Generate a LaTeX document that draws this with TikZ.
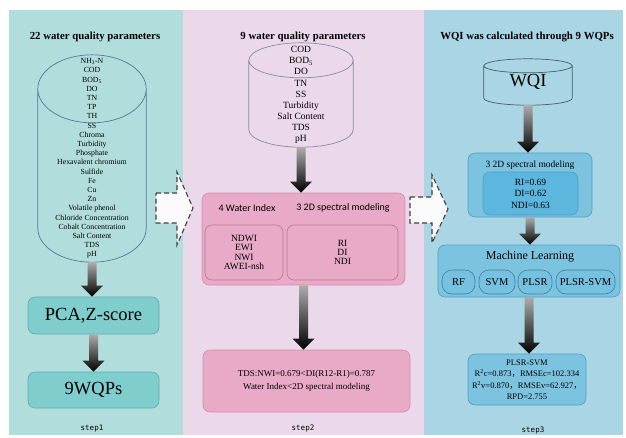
\documentclass[tikz,border=0pt]{standalone}
\usepackage{fontspec}
\setmainfont{Liberation Serif}
\setsansfont{Carlito}
\setmonofont{DejaVu Sans Mono}
\newfontfamily\cjk{Noto Sans CJK SC}
\usetikzlibrary{calc}

\definecolor{tealpanel}{HTML}{B2DDDD}
\definecolor{tealfill}{HTML}{7FCDCD}
\definecolor{tealline}{HTML}{5AAFB0}
\definecolor{pinkpanel}{HTML}{EBD8EB}
\definecolor{pinkfill}{HTML}{E8AAC6}
\definecolor{pinkline}{HTML}{D48FAF}
\definecolor{bluepanel}{HTML}{A9D5E5}
\definecolor{bluefill}{HTML}{7CC3E0}
\definecolor{blueline}{HTML}{4F9EC6}
\definecolor{blueinner}{HTML}{5DB6DE}
\definecolor{cylblue}{HTML}{4F7A9A}
\definecolor{cylgrey}{HTML}{8A8AA2}
\definecolor{cyldark}{HTML}{4A5A68}

% cylinder outline round a node: name, y radius, colour
\newcommand{\cyl}[3]{%
  \draw[cylline=#3] let \p1=(#1.north west), \p2=(#1.south east), \n1={0.5*(\x2-\x1)} in
    (\x1,\y1-#2) -- (\x1,\y2+#2) arc[start angle=180, end angle=360, x radius=\n1, y radius=#2] -- (\x2,\y1-#2)
    (\x1+\n1,\y1-#2) ellipse[x radius=\n1, y radius=#2];}
% thick shaded arrow from node to node
\newcommand{\flow}[2]{%
  \shade[top color=gray!65, bottom color=black] let \p1=(#1.south), \p2=(#2.north) in
    (\x1-4.5pt,\y1) -- (\x1+4.5pt,\y1) -- (\x1+4.5pt,\y2+11pt) -- (\x1+11pt,\y2+11pt)
    -- (\x1,\y2) -- (\x1-11pt,\y2+11pt) -- (\x1-4.5pt,\y2+11pt) -- cycle;}

\begin{document}
\begin{tikzpicture}[x=1pt, y=-1pt,
    title/.style={font=\bfseries\fontsize{10.8}{13}\selectfont},
    steplabel/.style={font=\ttfamily\fontsize{7.5}{9}\selectfont},
    cyltext/.style={inner sep=0pt, align=center},
    cylline/.style={draw=#1, line width=0.7pt},
    box/.style={rounded corners=7pt, line width=0.6pt, inner sep=0pt, align=center},
    tealbox/.style={box, fill=tealfill, draw=tealline},
    pinkbox/.style={box, fill=pinkfill, draw=pinkline},
    bluebox/.style={box, fill=bluefill, draw=blueline},
    innerblue/.style={box, fill=blueinner, draw=blueline},
    pill/.style={box, fill=bluefill!85!blueinner, draw=blueline!80!black, rounded corners=10pt, minimum height=24pt, font=\fontsize{10.5}{12}\selectfont},
    passarrow/.style={fill=white!96!gray, draw=black!75, dash pattern=on 5pt off 3pt, line width=1.1pt, line join=miter}]

    % Background
    \fill[white] (0,0) rectangle (626,437);
    \useasboundingbox (0,0) rectangle (626,437);
    \fill[tealpanel] (9,10) rectangle (183,435);
    \fill[pinkpanel] (183,10) rectangle (424,435);
    \fill[bluepanel] (424,10) rectangle (623,435);

    % Step 1
    \node[title] (title-1) at (95,37) {22 water quality parameters};
    \node[cyltext, minimum width=108pt, minimum height=207pt, font=\fontsize{7.8}{9.2}\selectfont] (cyl-1) at (92,158.5) {NH\textsubscript{3}-N\\COD\\BOD\textsubscript{5}\\DO\\TN\\TP\\TH\\SS\\Chroma\\Turbidity\\Phosphate\\Hexavalent chromium\\Sulfide\\Fe\\Cu\\Zn\\Volatile phenol\\Chloride Concentration\\Cobalt Concentration\\Salt Content\\TDS\\pH};
    \cyl{cyl-1}{34pt}{cylblue}
    \node[tealbox, minimum width=131pt, minimum height=37pt, font=\fontsize{18.5}{20}\selectfont] (box-1-1) at (93.5,315.5) {PCA,Z-score};
    \node[tealbox, minimum width=131pt, minimum height=36pt, font=\fontsize{18.5}{20}\selectfont] (box-1-2) at (93.5,390) {9WQPs};
    \flow{cyl-1}{box-1-1}
    \flow{box-1-1}{box-1-2}
    \node[steplabel] (step-1) at (92,429) {step1};

    % Step 2
    \node[title] (title-2) at (303,37) {9 water quality parameters};
    \node[cyltext, minimum width=104pt, minimum height=104pt, font=\fontsize{9.5}{11.1}\selectfont] (cyl-2) at (301,95) {COD\\BOD\textsubscript{5}\\DO\\TN\\SS\\Turbidity\\Salt Content\\TDS\\pH};
    \cyl{cyl-2}{17.5pt}{cylgrey}
    \node[pinkbox, minimum width=203pt, minimum height=92pt] (box-2-1) at (303.5,239) {};
    \node[font=\sffamily\fontsize{10}{12}\selectfont] (label-2-1) at (247,208) {4 Water Index};
    \node[font=\sffamily\fontsize{10}{12}\selectfont] (label-2-2) at (343,208) {3 2D spectral modeling};
    \node[pinkbox, draw=pinkline!85!black, minimum width=78pt, minimum height=55pt, font=\fontsize{9.5}{9.4}\selectfont] (box-2-1a) at (244,252.5) {NDWI\\EWI\\NWI\\AWEI-nsh};
    \node[pinkbox, draw=pinkline!85!black, minimum width=111pt, minimum height=55pt, font=\fontsize{9.5}{9.2}\selectfont] (box-2-1b) at (342.5,252.5) {RI\\DI\\NDI};
    \node[pinkbox, minimum width=207pt, minimum height=62pt, font=\fontsize{9}{13}\selectfont] (box-2-2) at (306.5,381) {TDS:NWI=0.679<DI(R12-R1)=0.787\\Water Index<2D spectral modeling};
    \flow{cyl-2}{box-2-1}
    \flow{box-2-1}{box-2-2}
    \node[steplabel] (step-2) at (303,428) {step2};

    % Step 3
    \node[title] (title-3) at (527,37) {WQI was calculated through 9 WQPs};
    \node[cyltext, minimum width=88pt, minimum height=46pt, font=\fontsize{18.5}{20}\selectfont] (cyl-3) at (528,82) {\raisebox{-4pt}{WQI}};
    \cyl{cyl-3}{7pt}{cyldark}
    \node[bluebox, minimum width=124pt, minimum height=64pt] (box-3-1) at (530,185) {};
    \node[font=\fontsize{9.5}{11}\selectfont] (label-3-1) at (530,165) {3 2D spectral modeling};
    \node[innerblue, minimum width=95pt, minimum height=43pt, font=\fontsize{9.5}{11.5}\selectfont] (box-3-1a) at (530.5,193.5) {RI=0.69\\DI=0.62\\NDI=0.63};
    \node[bluebox, minimum width=182pt, minimum height=52pt] (box-3-2) at (529,271) {};
    \node[font=\fontsize{12}{14}\selectfont] (label-3-2) at (530,257) {Machine Learning};
    \node[pill, minimum width=33pt] (pill-1) at (458.5,282) {RF};
    \node[pill, minimum width=36pt] (pill-2) at (497,282) {SVM};
    \node[pill, minimum width=34pt] (pill-3) at (535,282) {PLSR};
    \node[pill, minimum width=59pt] (pill-4) at (585.5,282) {PLSR-SVM};
    \node[bluebox, minimum width=118pt, minimum height=51pt, font=\fontsize{8.5}{11.5}\selectfont] (box-3-3) at (527,379.5) {PLSR-SVM\\R\textsuperscript{2}c=0.873{\cjk ，}RMSEc=102.334\\R\textsuperscript{2}v=0.870{\cjk ，}RMSEv=62.927{\cjk ，}\\RPD=2.755};
    \flow{cyl-3}{box-3-1}
    \flow{box-3-1}{box-3-2}
    \flow{box-3-2}{box-3-3}
    \node[steplabel] (step-3) at (533,430) {step3};

    % Arrows between the steps
    \draw[passarrow] (156,193) -- (177,193) -- (177,172) -- (193,208) -- (177,245) -- (177,223) -- (156,223) -- cycle;
    \draw[passarrow] (410,197) -- (432,197) -- (432,175) -- (448,209) -- (432,243) -- (432,223) -- (410,223) -- cycle;

\end{tikzpicture}
\end{document}
